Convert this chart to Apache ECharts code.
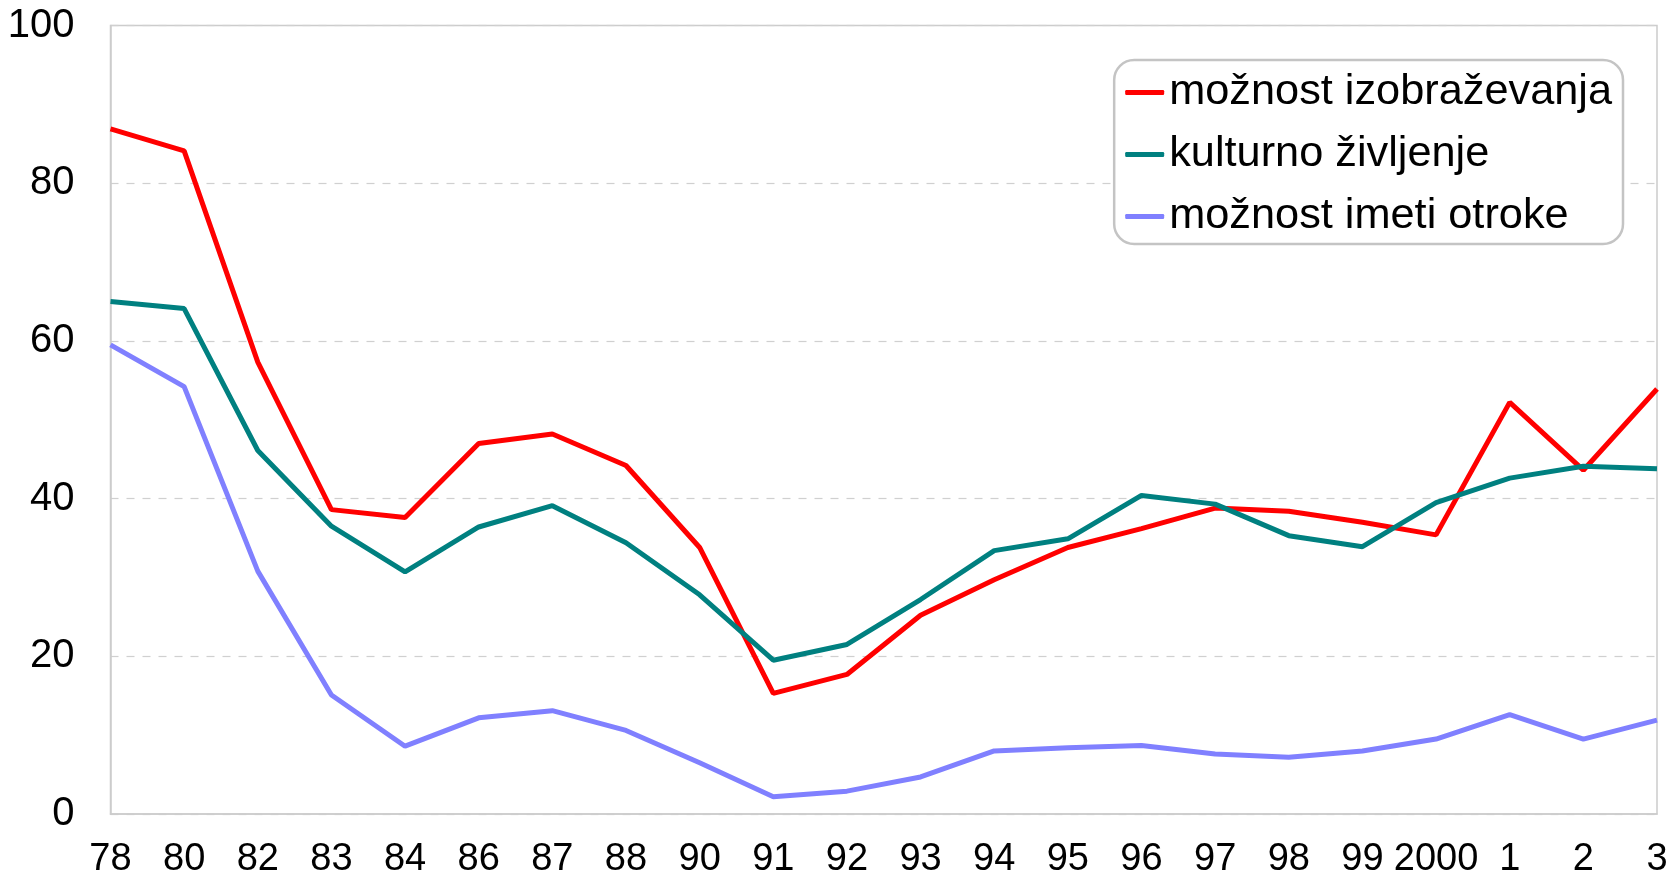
<!DOCTYPE html>
<html>
<head>
<meta charset="utf-8">
<script src="https://cdn.jsdelivr.net/npm/echarts@6/dist/echarts.min.js"></script>
<style>
  html, body { margin: 0; padding: 0; background: #fff; }
  #chart { width: 1669px; height: 874px; }
</style>
</head>
<body>
<div id="chart"></div>
<script>
// years (short labels as in the original)
const years = ['78', '80', '82', '83', '84', '86', '87', '88', '90', '91', '92', '93',
    '94', '95', '96', '97', '98', '99', '2000', '1', '2', '3'];

const izobrazevanje = [86.9, 84.1, 57.3, 38.6, 37.6, 47.0, 48.2, 44.2, 33.8, 15.3, 17.7, 25.2,
    29.7, 33.8, 36.2, 38.8, 38.4, 37.0, 35.4, 52.2, 43.6, 53.9];
const kultura = [65.0, 64.1, 46.1, 36.5, 30.7, 36.4, 39.1, 34.4, 27.8, 19.5, 21.5, 27.2,
    33.4, 34.9, 40.4, 39.3, 35.3, 33.9, 39.5, 42.6, 44.1, 43.8];
const otroci = [59.5, 54.2, 30.8, 15.1, 8.6, 12.2, 13.1, 10.6, 6.5, 2.2, 2.9, 4.7,
    8.0, 8.4, 8.7, 7.6, 7.2, 8.0, 9.5, 12.6, 9.5, 11.9];

const seriesNames = ['možnost izobraževanja', 'kulturno življenje', 'možnost imeti otroke'];
const colors = ['#ff0000', '#008080', '#8080ff'];

const font = '"Liberation Sans", Arial, sans-serif';

const chart = echarts.init(document.getElementById('chart'));

function line(name, data, color) {
    return {
        name: name,
        type: 'line',
        data: data,
        symbol: 'none',
        lineStyle: { color: color, width: 5 },
        itemStyle: { color: color },
        z: 3
    };
}

const option = {
    animation: false,
    backgroundColor: '#fff',
    textStyle: { fontFamily: font },
    grid: {
        left: 110.5,
        right: 12,
        top: 25.5,
        bottom: 60,
        containLabel: false,
        outerBoundsMode: 'none',
        show: true,
        borderColor: '#cccccc',
        borderWidth: 1.5
    },
    legend: {
        orient: 'vertical',
        right: 46,
        top: 60,
        padding: [11, 11, 6, 11],
        itemGap: 19,
        itemWidth: 39,
        itemHeight: 5,
        icon: 'roundRect',
        borderColor: '#c4c4c4',
        borderWidth: 2.5,
        borderRadius: 20,
        backgroundColor: '#fff',
        textStyle: { fontFamily: font, fontSize: 43.3, color: '#000', padding: [0, 0, 0, 0] },
        data: seriesNames
    },
    xAxis: {
        type: 'category',
        data: years,
        boundaryGap: false,
        axisTick: { show: false },
        axisLine: { lineStyle: { color: '#cccccc', width: 1.5 } },
        axisLabel: {
            color: '#000',
            fontFamily: font,
            fontSize: 38,
            margin: 27,
            interval: 0
        }
    },
    yAxis: {
        type: 'value',
        min: 0,
        max: 100,
        interval: 20,
        axisTick: { show: false },
        axisLine: { show: true, lineStyle: { color: '#cccccc', width: 1.5 } },
        splitLine: { lineStyle: { color: '#d0d0d0', type: [8, 8], width: 1.2 } },
        axisLabel: {
            color: '#000',
            fontFamily: font,
            fontSize: 40,
            margin: 36
        }
    },
    series: [
        line(seriesNames[0], izobrazevanje, colors[0]),
        line(seriesNames[1], kultura, colors[1]),
        line(seriesNames[2], otroci, colors[2])
    ]
};

chart.setOption(option);
</script>
</body>
</html>
